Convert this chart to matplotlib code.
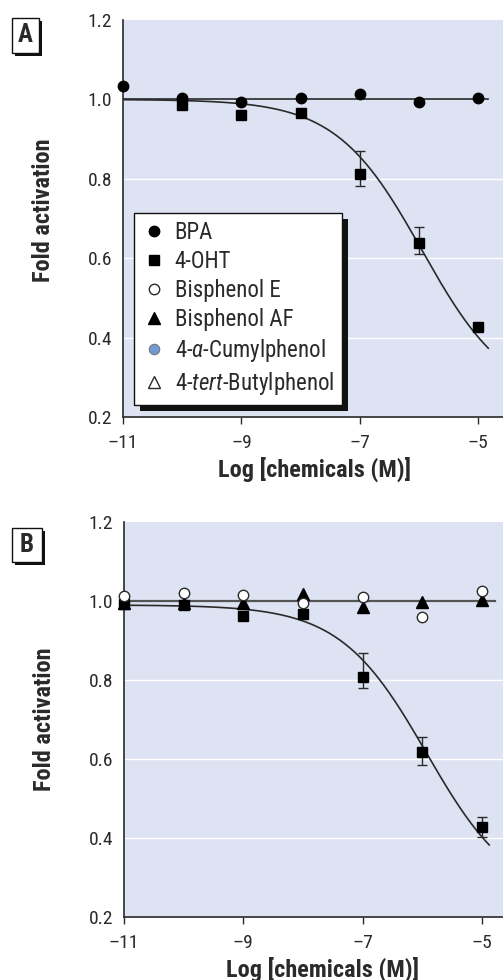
import numpy as np
import matplotlib
matplotlib.use('Agg')
import matplotlib.pyplot as plt
from matplotlib.lines import Line2D
from matplotlib.patches import Rectangle

plt.rcParams['font.family'] = ['Roboto Condensed', 'Roboto', 'DejaVu Sans']
plt.rcParams['mathtext.fontset'] = 'custom'
plt.rcParams['mathtext.rm'] = 'Roboto Condensed'
plt.rcParams['mathtext.it'] = 'Roboto Condensed:italic'

# dose (log M)
doses = [-11, -10, -9, -8, -7, -6, -5]

# panel A
bpa_a = [1.035, 1.004, 0.993, 1.004, 1.014, 0.993, 1.003]
oht_a_x = [-10, -9, -8, -7, -6, -5]
oht_a = [0.985, 0.960, 0.966, 0.812, 0.638, 0.427]
oht_a_lo = [0, 0, 0, 0.031, 0.027, 0]
oht_a_hi = [0, 0, 0, 0.057, 0.040, 0]

# panel B
oht_b = [0.992, 0.990, 0.962, 0.967, 0.808, 0.618, 0.428]
oht_b_lo = [0, 0, 0, 0, 0.027, 0.032, 0.026]
oht_b_hi = [0, 0, 0, 0, 0.061, 0.038, 0.026]
bpe_b = [1.013, 1.020, 1.015, 0.996, 1.009, 0.960, 1.026]
bpaf_b = [0.994, 0.994, 0.994, 1.017, 0.985, 0.998, 1.003]

# fitted dose-response (top, bottom, logEC50, hill, x end)
fit_a = [1.0, 0.24, -5.95, 0.6, -4.83]
fit_b = [0.99, 0.24, -5.93, 0.6, -4.88]

legend_names = ['BPA', '4-OHT', 'Bisphenol E', 'Bisphenol AF',
                '4-$\\alpha$-Cumylphenol', '4-$\\it{tert}$-Butylphenol']

bg = '#dde3f2'
dark = '#2a2a2a'


def hill(x, p):
    top, bot, c, h, _ = p
    return bot + (top - bot) / (1 + 10 ** ((x - c) * h))


def setup(ax, xmax):
    ax.set_facecolor(bg)
    ax.set_xlim(-11, xmax)
    ax.set_ylim(0.2, 1.2)
    ax.set_xticks([-11, -9, -7, -5])
    ax.set_xticklabels(['\u201311', '\u20139', '\u20137', '\u20135'])
    ax.set_yticks([0.2, 0.4, 0.6, 0.8, 1.0, 1.2])
    ax.set_yticklabels(['0.2', '0.4', '0.6', '0.8', '1.0', '1.2'])
    ax.tick_params(axis='y', length=0, pad=8, labelsize=14, colors=dark)
    ax.tick_params(axis='x', length=5, width=1, direction='out', pad=7,
                   labelsize=14, colors=dark)
    for s in ['top', 'right']:
        ax.spines[s].set_visible(False)
    for s in ['left', 'bottom']:
        ax.spines[s].set_color(dark)
        ax.spines[s].set_linewidth(1.2)
    for g in [0.4, 0.6, 0.8]:
        ax.axhline(g, color='white', lw=1, zorder=0.5)
    ax.set_ylabel('Fold activation', fontsize=17.5, fontweight='bold', color=dark)
    ax.set_xlabel('Log [chemicals (M)]', fontsize=17.5, fontweight='bold', color=dark)


def panel_label(letter, x, y, w, h):
    # pixel coords, top-left origin
    W, H = 503, 980
    fig.add_artist(Rectangle(((x + 3) / W, 1 - (y + h + 3) / H), w / W, h / H,
                             transform=fig.transFigure, facecolor='#111', edgecolor='none'))
    fig.add_artist(Rectangle((x / W, 1 - (y + h) / H), w / W, h / H,
                             transform=fig.transFigure, facecolor='white',
                             edgecolor='#111', lw=1))
    fig.text((x + w / 2) / W, 1 - (y + h / 2) / H, letter, ha='center', va='center',
             fontsize=18, fontweight='bold', color=dark)


fig = plt.figure(figsize=(5.03, 9.8), dpi=100)
axA = fig.add_axes([123 / 503, 1 - 417 / 980, 380 / 503, 397 / 980])
axB = fig.add_axes([124 / 503, 1 - 917 / 980, 379 / 503, 395 / 980])

# ---- A
setup(axA, -11 + 380 / 59.2)
axA.plot([-11, fit_a[4]], [1.0, 1.0], color=dark, lw=1.2, zorder=2)
xa = np.linspace(-11, fit_a[4], 300)
axA.plot(xa, hill(xa, fit_a), color=dark, lw=1.2, zorder=2)
axA.plot(doses, bpa_a, 'o', color='black', ms=7.5, zorder=4, clip_on=False)
axA.errorbar(oht_a_x, oht_a, yerr=[oht_a_lo, oht_a_hi], fmt='s', color='black',
             ms=7.5, ecolor=dark, elinewidth=1, capsize=3.5, capthick=1, zorder=4)
axA.yaxis.set_label_coords(-0.18, 0.52)
axA.xaxis.set_label_coords(0.505, -0.1)

handles = [
    Line2D([], [], ls='', marker='o', color='black', ms=7.5),
    Line2D([], [], ls='', marker='s', color='black', ms=7),
    Line2D([], [], ls='', marker='o', mfc='white', mec=dark, mew=1, ms=7.5),
    Line2D([], [], ls='', marker='^', color='black', ms=8.5),
    Line2D([], [], ls='', marker='o', mfc='#6f9ad6', mec='#777777', mew=0.8, ms=7.5),
    Line2D([], [], ls='', marker='^', mfc='white', mec=dark, mew=1, ms=8.5),
]
leg = axA.legend(handles, legend_names, loc='upper left', bbox_to_anchor=(0.03, 0.514),
                 borderaxespad=0, frameon=True, fancybox=False, fontsize=16.5,
                 labelspacing=0.26, handletextpad=0.4, handlelength=1.0,
                 borderpad=0.35, labelcolor=dark)
leg.get_frame().set_edgecolor('#111')
leg.get_frame().set_linewidth(1)
leg.get_frame().set_facecolor('white')
leg.get_frame().set_alpha(1)
leg.set_zorder(6)

# ---- B
setup(axB, -11 + 379 / 59.67)
axB.plot([-11, -4.78], [1.0, 1.0], color='#555555', lw=1.6, zorder=2)
xb = np.linspace(-11, fit_b[4], 300)
axB.plot(xb, hill(xb, fit_b), color=dark, lw=1.2, zorder=2)
axB.plot(doses, bpaf_b, '^', color='black', ms=8.5, zorder=3, clip_on=False)
axB.errorbar(doses, oht_b, yerr=[oht_b_lo, oht_b_hi], fmt='s', color='black',
             ms=7.5, ecolor=dark, elinewidth=1, capsize=3.5, capthick=1, zorder=4,
             clip_on=False)
axB.plot(doses, bpe_b, 'o', mfc='white', mec=dark, mew=1, ms=7.5, zorder=5, clip_on=False)
axB.yaxis.set_label_coords(-0.18, 0.5)
axB.xaxis.set_label_coords(0.523, -0.1)

panel_label('A', 12, 18, 27, 35)
panel_label('B', 12, 528, 30, 34)

# legend shadow
fig.canvas.draw()
bb = leg.get_window_extent().transformed(axA.transAxes.inverted())
axA.add_patch(Rectangle((bb.x0 + 6 / 380, bb.y0 - 6 / 397), bb.width, bb.height,
                        transform=axA.transAxes, facecolor='#111', edgecolor='none',
                        zorder=5.5, clip_on=False))

fig.savefig('out.png', dpi=100)
